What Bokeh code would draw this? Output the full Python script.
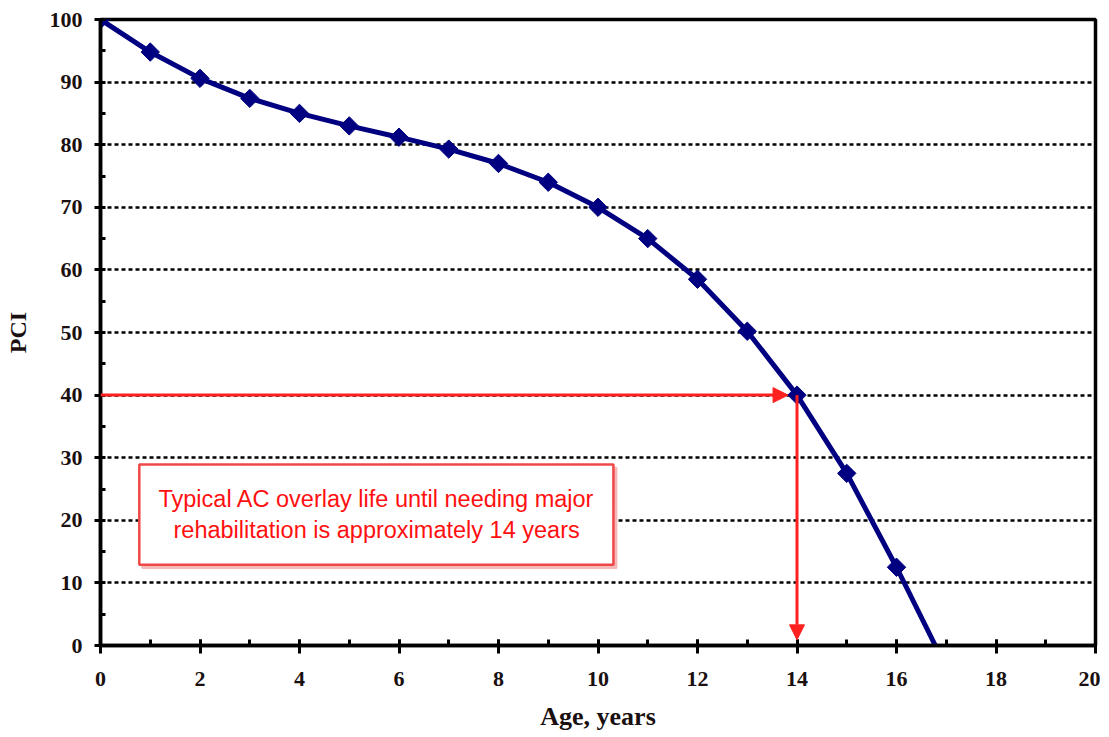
import math
from bokeh.plotting import figure
from bokeh.models import (Range1d, SingleIntervalTicker, Arrow, NormalHead,
                          BoxAnnotation, Label)
from bokeh.embed import file_html
from bokeh.resources import INLINE

# ---- data ----
age = [0, 1, 2, 3, 4, 5, 6, 7, 8, 9, 10, 11, 12, 13, 14, 15, 16]
pci = [100, 94.8, 90.6, 87.4, 85.0, 83.0, 81.2, 79.3, 77.0, 74.0, 70.0,
       65.0, 58.5, 50.2, 40.0, 27.5, 12.5]
curve_end_age = 16.78
curve_end_pci = 0
life_years = 14
life_pci = 40
note_text = ("Typical AC overlay life until needing major\n"
             "rehabilitation is approximately 14 years")

NAVY = "#000080"
RED = "#ff2020"
SERIF = "Liberation Serif"

p = figure(frame_width=995, frame_height=626,
           min_border_left=100, min_border_right=5,
           min_border_top=19, min_border_bottom=92,
           x_range=Range1d(0, 20), y_range=Range1d(0, 100),
           output_backend="svg", toolbar_location=None,
           background_fill_color="white", border_fill_color="white")

p.outline_line_color = "black"
p.outline_line_width = 3.5

# grid
p.xgrid.visible = False
p.ygrid.grid_line_color = "black"
p.ygrid.grid_line_width = 2.5
p.ygrid.grid_line_dash = "4 3"

# axes
p.xaxis.ticker = SingleIntervalTicker(interval=2, num_minor_ticks=2)
p.yaxis.ticker = SingleIntervalTicker(interval=10, num_minor_ticks=2)
for ax in (p.xaxis[0], p.yaxis[0]):
    ax.axis_line_color = "black"
    ax.axis_line_width = 3.5
    ax.major_tick_line_color = "black"
    ax.major_tick_line_width = 3
    ax.minor_tick_line_color = "black"
    ax.minor_tick_line_width = 3
    ax.major_label_text_font = SERIF
    ax.major_label_text_font_style = "bold"
    ax.major_label_text_font_size = "22px"
    ax.major_label_text_color = "#1a1010"
    ax.axis_label_text_font = SERIF
    ax.axis_label_text_font_style = "bold"
    ax.axis_label_text_color = "#1a1010"

p.xaxis.major_tick_out = 8
p.xaxis.major_tick_in = 6
p.xaxis.minor_tick_out = 0
p.xaxis.minor_tick_in = 6
p.xaxis.major_label_standoff = 18
p.xaxis.axis_label = "Age, years"
p.xaxis.axis_label_text_font_size = "26px"
p.xaxis.axis_label_standoff = 13

p.yaxis.major_tick_out = 6
p.yaxis.major_tick_in = 2
p.yaxis.minor_tick_out = 0
p.yaxis.minor_tick_in = 5
p.yaxis.major_label_standoff = 12
p.yaxis.axis_label = "PCI"
p.yaxis.axis_label_text_font_size = "24px"
p.yaxis.axis_label_standoff = 16

# annotation box (with soft shadow) + text
shadow = BoxAnnotation(left=0.84, right=10.37, bottom=12.4, top=28.4,
                       fill_color="#f4b8b8", fill_alpha=1.0,
                       line_color="#f4b8b8", line_alpha=1.0, line_width=2,
                       level="overlay")
p.add_layout(shadow)
box = BoxAnnotation(left=0.78, right=10.31, bottom=12.9, top=28.9,
                    fill_color="white", fill_alpha=1.0,
                    line_color="#f04848", line_alpha=1.0, line_width=2.5,
                    level="overlay")
p.add_layout(box)
lab = Label(x=5.55, y=20.9, text=note_text, text_align="center",
            text_baseline="middle", text_color="#ff1010",
            text_font="Liberation Sans", text_font_size="23.5px",
            text_line_height=1.2, level="overlay")
p.add_layout(lab)

# arrows
p.add_layout(Arrow(end=NormalHead(size=15, fill_color=RED, line_color=RED),
                   x_start=0, y_start=life_pci, x_end=life_years - 0.18,
                   y_end=life_pci, line_color=RED, line_width=3))
p.add_layout(Arrow(end=NormalHead(size=15, fill_color=RED, line_color=RED),
                   x_start=life_years, y_start=life_pci, x_end=life_years,
                   y_end=0.9, line_color=RED, line_width=3))

# curve
p.line(age + [curve_end_age], pci + [curve_end_pci], line_color=NAVY,
       line_width=5)
p.scatter(age, pci, marker="square", size=13, angle=math.pi / 4,
          fill_color=NAVY, line_color=NAVY)

open("out.html", "w").write(file_html(p, INLINE))
